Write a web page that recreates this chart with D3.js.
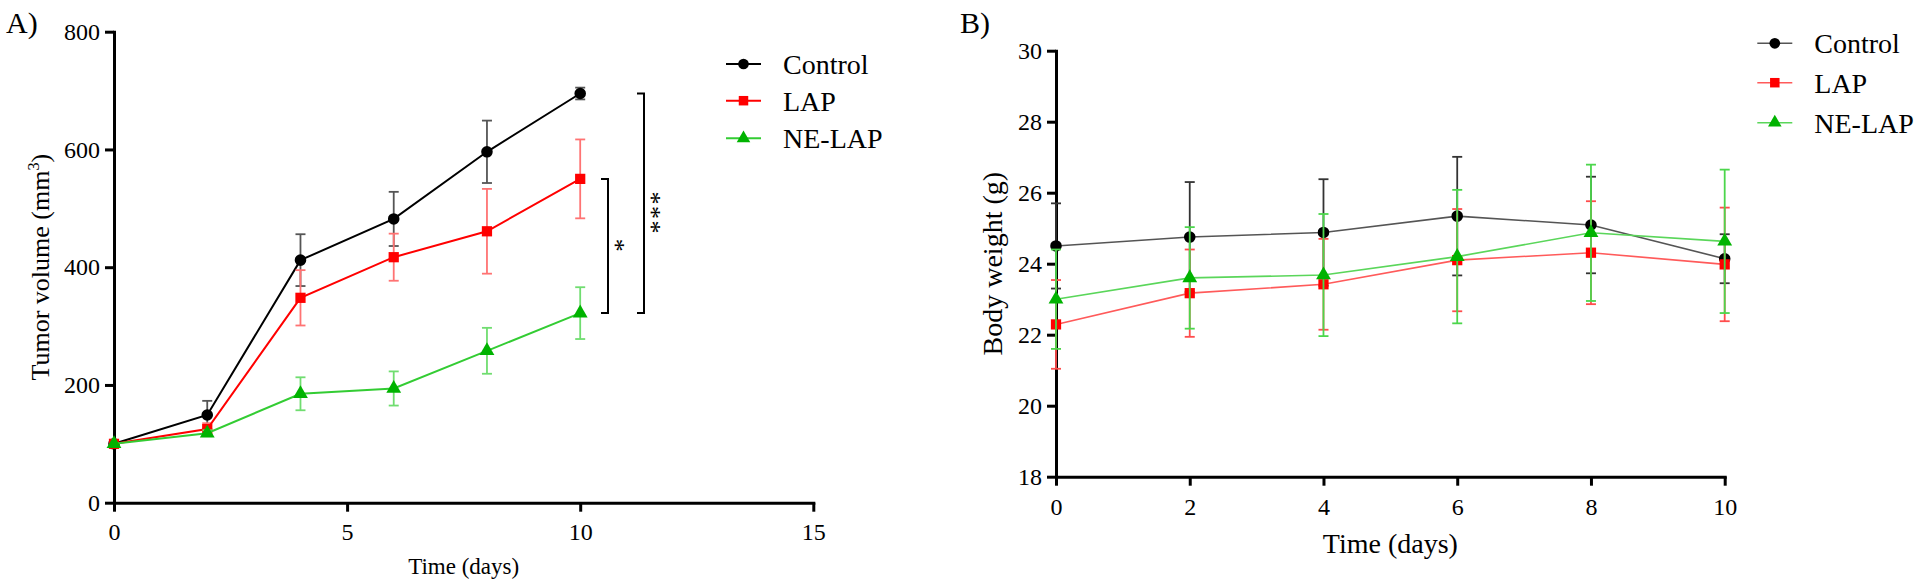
<!DOCTYPE html>
<html>
<head>
<meta charset="utf-8">
<script src="https://cdn.jsdelivr.net/npm/d3@7"></script>
<style>
  body { margin: 0; background: #fff; }
  svg { display: block; font-family: "Liberation Serif", "Times New Roman", serif; }
</style>
</head>
<body>
<div id="chart"></div>
<script>
// data
var days = [0, 2, 4, 6, 8, 10];
var groups = ["Control", "LAP", "NE-LAP"];

// A) tumor volume (mm3)
var volControl = [100, 149, 412, 482, 596, 695];
var volControlErr = [0, 24, 44, 46, 53, 10];
var volLAP = [100, 125, 348, 417, 461, 550];
var volLAPErr = [0, 10, 47, 40, 72, 67];
var volNE = [100, 118, 185, 194, 258, 322];
var volNEErr = [0, 5, 28, 29, 39, 44];
var volXTicks = [0, 5, 10, 15];
var volYTicks = [0, 200, 400, 600, 800];

// B) body weight (g)
var bwControl = [24.5, 24.75, 24.88, 25.34, 25.09, 24.14];
var bwControlErr = [1.2, 1.55, 1.5, 1.67, 1.36, 0.69];
var bwLAP = [22.29, 23.17, 23.42, 24.1, 24.31, 23.98];
var bwLAPErr = [1.25, 1.23, 1.28, 1.44, 1.45, 1.6];
var bwNE = [23.0, 23.6, 23.68, 24.2, 24.87, 24.63];
var bwNEErr = [1.4, 1.43, 1.72, 1.88, 1.92, 2.02];
var bwXTicks = [0, 2, 4, 6, 8, 10];
var bwYTicks = [18, 20, 22, 24, 26, 28, 30];

var svg = d3.select("#chart").append("svg")
  .attr("width", 1920)
  .attr("height", 583);

var symbols = [d3.symbolCircle, d3.symbolSquare, d3.symbolTriangle];

function drawPanel(opt) {
  var x = d3.scaleLinear().domain(opt.xDomain).range(opt.xRange);
  var y = d3.scaleLinear().domain(opt.yDomain).range(opt.yRange);
  var g = svg.append("g");

  // axes
  var yAxis = g.append("g")
    .attr("transform", `translate(${opt.xRange[0]},0)`)
    .call(d3.axisLeft(y).tickValues(opt.yTicks).tickSize(9).tickSizeOuter(0).tickPadding(opt.yPad));
  var xAxis = g.append("g")
    .attr("transform", `translate(0,${opt.yRange[0]})`)
    .call(d3.axisBottom(x).tickValues(opt.xTicks).tickSize(9).tickSizeOuter(0).tickPadding(opt.xPad));
  [xAxis, yAxis].forEach(function(a) {
    a.select(".domain").attr("stroke", "#000").attr("stroke-width", 3).attr("stroke-linecap", "square");
    a.selectAll(".tick line").attr("stroke", "#000").attr("stroke-width", 3);
    a.selectAll(".tick text").attr("font-family", "Liberation Serif").attr("font-size", 24).attr("fill", "#000");
  });

  // series
  opt.series.forEach(function(s, i) {
    var pts = days.map(function(d, j) { return { x: d, y: s.values[j], e: s.err[j] }; });
    var eb = g.append("g");
    pts.forEach(function(p) {
      if (p.e <= 0) return;
      var px = x(p.x), y1 = y(p.y + p.e), y2 = y(p.y - p.e);
      eb.append("line").attr("x1", px).attr("x2", px).attr("y1", y1).attr("y2", y2)
        .attr("stroke", s.errColor).attr("stroke-width", 1.8);
      [y1, y2].forEach(function(yy) {
        eb.append("line").attr("x1", px - 5).attr("x2", px + 5).attr("y1", yy).attr("y2", yy)
          .attr("stroke", s.errColor).attr("stroke-width", 1.8);
      });
    });
    g.append("path")
      .datum(pts)
      .attr("fill", "none")
      .attr("stroke", s.lineColor)
      .attr("stroke-width", opt.lineWidth)
      .attr("d", d3.line().x(function(d) { return x(d.x); }).y(function(d) { return y(d.y); }));
    g.selectAll(null).data(pts).enter().append("path")
      .attr("transform", function(d) { return `translate(${x(d.x)},${y(d.y)})`; })
      .attr("d", d3.symbol().type(symbols[i]).size(i === 2 ? 95 : 105))
      .attr("fill", s.markerColor);
  });

  // axis titles
  g.append("text")
    .attr("x", (opt.xRange[0] + opt.xRange[1]) / 2)
    .attr("y", opt.xTitleY)
    .attr("text-anchor", "middle")
    .attr("font-size", opt.xTitleSize)
    .text("Time (days)");
  var yt = g.append("text")
    .attr("transform", `translate(${opt.yTitleX},${(opt.yRange[0] + opt.yRange[1]) / 2}) rotate(-90)`)
    .attr("text-anchor", "middle")
    .attr("font-size", opt.yTitleSize);
  yt.append("tspan").text(opt.yTitle);
  if (opt.yTitleSup) {
    yt.append("tspan").attr("dy", -10).attr("font-size", opt.yTitleSize * 0.62).text(opt.yTitleSup);
    yt.append("tspan").attr("dy", 10).text(")");
  }

  // panel letter
  g.append("text").attr("x", opt.letterX).attr("y", 33).attr("font-size", 30).text(opt.letter);

  // legend
  opt.series.forEach(function(s, i) {
    var ly = opt.legendY[i];
    var lg = g.append("g");
    lg.append("line").attr("x1", opt.legendX).attr("x2", opt.legendX + 35).attr("y1", ly).attr("y2", ly)
      .attr("stroke", s.lineColor).attr("stroke-width", opt.lineWidth);
    lg.append("path").attr("transform", `translate(${opt.legendX + 17.5},${ly})`)
      .attr("d", d3.symbol().type(symbols[i]).size(i === 2 ? 80 : 90))
      .attr("fill", s.markerColor);
    lg.append("text").attr("x", opt.legendX + 57).attr("y", ly).attr("dy", "0.35em")
      .attr("font-size", 28).text(groups[i]);
  });

  return { x: x, y: y, g: g };
}

var A = drawPanel({
  letter: "A)", letterX: 6,
  xDomain: [0, 15], xRange: [114, 813.3],
  yDomain: [0, 800], yRange: [502.7, 31.7],
  xTicks: volXTicks, yTicks: volYTicks, xPad: 11, yPad: 5,
  xTitleY: 574, xTitleSize: 23,
  yTitle: "Tumor volume (mm", yTitleSup: "3", yTitleX: 49, yTitleSize: 26,
  lineWidth: 2,
  legendX: 726, legendY: [64, 100.7, 138.3],
  series: [
    { values: volControl, err: volControlErr, lineColor: "#000", markerColor: "#000", errColor: "#555" },
    { values: volLAP, err: volLAPErr, lineColor: "#ff0000", markerColor: "#ff0000", errColor: "#ff7373" },
    { values: volNE, err: volNEErr, lineColor: "#33cc33", markerColor: "#00b300", errColor: "#70dd70" }
  ]
});

// significance brackets, A panel
var sig = [
  { from: volLAP[5], to: volNE[5], x: 608, label: "*", shift: 0 },
  { from: volControl[5], to: volNE[5], x: 644, label: "***", shift: 10 }
];
sig.forEach(function(s) {
  var y1 = A.y(s.from), y2 = A.y(s.to);
  A.g.append("path")
    .attr("d", `M${s.x - 7},${y1}H${s.x}V${y2}H${s.x - 7}`)
    .attr("fill", "none").attr("stroke", "#000").attr("stroke-width", 2);
  var mid = (y1 + y2) / 2 + s.shift;
  // stars read top to bottom, one text turned on its side
  // (the glyph sits high, so after the turn it lands ~13px right of the anchor)
  A.g.append("text")
    .attr("transform", `translate(${s.x - 1.5},${mid}) rotate(90)`)
    .attr("text-anchor", "middle")
    .attr("letter-spacing", 1.5)
    .attr("font-size", 26)
    .text(s.label);
});

drawPanel({
  letter: "B)", letterX: 960,
  xDomain: [0, 10], xRange: [1056, 1724.7],
  yDomain: [18, 30], yRange: [476.7, 50.7],
  xTicks: bwXTicks, yTicks: bwYTicks, xPad: 12, yPad: 5,
  xTitleY: 553, xTitleSize: 28,
  yTitle: "Body weight (g)", yTitleX: 1002, yTitleSize: 28,
  lineWidth: 1.6,
  legendX: 1757.3, legendY: [43.3, 82.7, 122.7],
  series: [
    { values: bwControl, err: bwControlErr, lineColor: "#555", markerColor: "#000", errColor: "#333" },
    { values: bwLAP, err: bwLAPErr, lineColor: "#ff5a5a", markerColor: "#ff0000", errColor: "#ff4d4d" },
    { values: bwNE, err: bwNEErr, lineColor: "#5ad65a", markerColor: "#00b300", errColor: "#4cd64c" }
  ]
});
</script>
</body>
</html>
